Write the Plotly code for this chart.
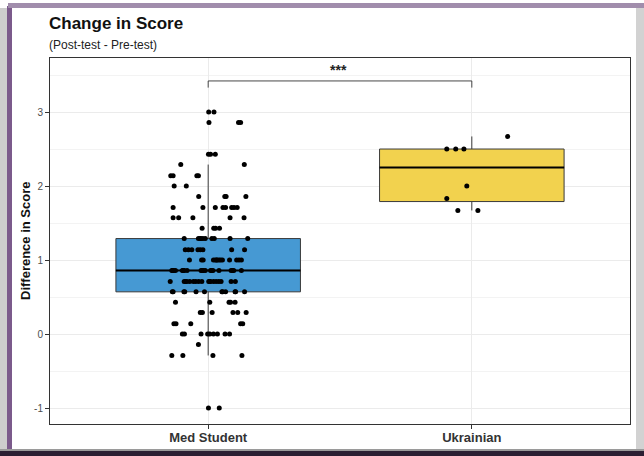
import numpy as np
import plotly.graph_objects as go

# ---- data -------------------------------------------------------------
groups = ["Med Student", "Ukrainian"]
group_pos = [1, 2]
y_ticks = [-1, 0, 1, 2, 3]
y_tick_labels = ["-1", "0", "1", "2", "3"]

# Med Student change scores (post - pre), grouped by score level
med_scores = (
    [3.00] * 2 + [2.86] * 3 + [2.43] * 3 + [2.29] * 2 + [2.14] * 4 + [2.00] * 2
    + [1.86] * 4 + [1.71] * 8 + [1.57] * 5 + [1.43] * 4 + [1.29] * 10
    + [1.14] * 8 + [1.00] * 14 + [0.86] * 20 + [0.71] * 18 + [0.57] * 12
    + [0.43] * 5 + [0.29] * 6 + [0.14] * 5 + [0.00] * 9 + [-0.14] * 1
    + [-0.29] * 4 + [-1.00] * 2
)
# horizontal jitter of each Med Student point (category units)
med_jitter = [
    0.002, 0.022,
    0.003, 0.115, 0.123,
    0.001, 0.009, 0.027,
    -0.104, 0.137,
    -0.142, -0.133, -0.043, -0.037,
    -0.129, -0.083,
    -0.036, 0.063, 0.068, 0.143,
    -0.133, -0.020, 0.027, 0.056, 0.066, 0.089, 0.098, 0.110,
    -0.133, -0.112, -0.058, 0.083, 0.136,
    -0.023, 0.021, 0.028, 0.043,
    -0.091, -0.037, -0.028, -0.020, -0.011, 0.014, 0.023, 0.083, 0.150, -0.030,
    -0.087, -0.075, -0.062, -0.039, -0.030, -0.020, 0.089, 0.138,
    -0.071, -0.025, -0.019, 0.020, 0.027, 0.034, 0.041, 0.047, 0.054, 0.081,
    0.108, 0.117, 0.126, 0.032,
    -0.138, -0.131, -0.124, -0.098, -0.091, -0.080, -0.027, -0.018, -0.011,
    0.009, 0.018, 0.041, 0.087, 0.097, 0.126, -0.134, -0.095, -0.023, 0.014, 0.092,
    -0.144, -0.091, -0.081, -0.070, -0.056, -0.047, -0.036, -0.024, 0.002,
    0.009, 0.020, 0.030, 0.040, 0.049, 0.087, 0.103, -0.086, 0.006,
    -0.136, -0.092, -0.046, -0.014, 0.052, 0.066, 0.104, 0.138, -0.133, -0.089,
    0.055, 0.102,
    -0.124, 0.006, 0.079, 0.102, 0.085,
    -0.030, -0.022, 0.015, 0.094, 0.112, 0.144,
    -0.130, -0.122, -0.066, 0.123, 0.131,
    -0.098, -0.090, -0.027, -0.002, 0.006, 0.020, 0.035, 0.064, 0.081,
    -0.037,
    -0.138, -0.096, 0.018, 0.128,
    0.001, 0.042,
]

# Ukrainian change scores and their jitter
ukr_scores = [2.50, 2.50, 2.50, 2.67, 2.00, 1.83, 1.67, 1.67]
ukr_jitter = [-0.095, -0.061, -0.030, 0.136, -0.019, -0.095, -0.053, 0.023]

box_colors = ["#4699D3", "#F2D24E"]
signif_label = "***"
bracket_y = 3.42
bracket_drop = 0.09

# ---- figure -----------------------------------------------------------
W, H = 644, 456
ML, MR, MT, MB = 50, 14, 58, 32
FONT = "Liberation Sans, Arial, sans-serif"


def px_x(p):
    return (p - ML) / (W - ML - MR)


def px_y(p):
    return (H - MB - p) / (H - MT - MB)


fig = go.Figure()
box_width = 0.7
series = [(med_scores, med_jitter), (ukr_scores, ukr_jitter)]

for pos, (vals, jit), col in zip(group_pos, series, box_colors):
    v = np.asarray(vals, dtype=float)
    q1, med, q3 = np.percentile(v, [25, 50, 75])
    iqr = q3 - q1
    lo = v[v >= q1 - 1.5 * iqr].min()
    hi = v[v <= q3 + 1.5 * iqr].max()
    fig.add_trace(go.Box(
        x=[pos], q1=[q1], median=[med], q3=[q3],
        lowerfence=[lo], upperfence=[hi],
        width=box_width, fillcolor=col, whiskerwidth=0,
        line=dict(color="#3a3a3a", width=1), boxpoints=False,
        showlegend=False, hoverinfo="skip",
    ))
    fig.add_trace(go.Scatter(
        x=[pos - box_width / 2, pos + box_width / 2], y=[med, med],
        mode="lines", line=dict(color="black", width=2),
        showlegend=False, hoverinfo="skip",
    ))

for pos, (vals, jit) in zip(group_pos, series):
    fig.add_trace(go.Scatter(
        x=[pos + j for j in jit], y=vals, mode="markers",
        marker=dict(color="black", size=5, line=dict(width=0)),
        showlegend=False,
    ))

# significance bracket
fig.add_shape(
    type="path",
    path=(f"M {group_pos[0]},{bracket_y - bracket_drop} L {group_pos[0]},{bracket_y} "
          f"L {group_pos[1]},{bracket_y} L {group_pos[1]},{bracket_y - bracket_drop}"),
    xref="x", yref="y", line=dict(color="#333333", width=0.9),
)
fig.add_annotation(
    x=sum(group_pos) / 2, y=bracket_y, xref="x", yref="y", text=signif_label,
    showarrow=False, yanchor="bottom", yshift=1, xshift=-2,
    font=dict(family=FONT, size=14, color="#222222", weight="bold"),
)

# titles
fig.add_annotation(
    x=0, y=px_y(24), xref="paper", yref="paper", text="<b>Change in Score</b>",
    showarrow=False, xanchor="left", yanchor="middle", xshift=-3,
    font=dict(family=FONT, size=17, color="#111111"),
)
fig.add_annotation(
    x=0, y=px_y(45), xref="paper", yref="paper", text="(Post-test - Pre-test)",
    showarrow=False, xanchor="left", yanchor="middle", xshift=-3,
    font=dict(family=FONT, size=12, color="#222222"),
)
fig.add_annotation(
    x=px_x(25), y=0.5, xref="paper", yref="paper", text="<b>Difference in Score</b>",
    showarrow=False, textangle=-90, xanchor="center", yanchor="middle",
    font=dict(family=FONT, size=13, color="#111111"),
)

# decorative frame around the figure
frame = [
    (0, 8, 7, 452, "#cdcdcd"),
    (7, 6, 12, 452, "#7b5a8b"),
    (8, 3, 644, 8, "#a18dac"),
    (636, 8, 644, 452, "#d2d2d2"),
    (0, 449, 644, 451, "#9a9a9a"),
    (0, 451, 644, 456, "#2b1f33"),
]
for x0, y0, x1, y1, c in frame:
    fig.add_shape(type="rect", xref="paper", yref="paper",
                  x0=px_x(x0), x1=px_x(x1), y0=px_y(y1), y1=px_y(y0),
                  fillcolor=c, line=dict(width=0), layer="below")

axis_common = dict(
    showline=True, mirror=True, linecolor="#333333", linewidth=1,
    ticks="outside", ticklen=4, tickcolor="#333333", tickwidth=1,
    showgrid=True, gridcolor="#EBEBEB", gridwidth=1, zeroline=False,
    automargin=False,
)
fig.update_xaxes(
    range=[0.4, 2.6], tickvals=group_pos, ticktext=groups,
    tickfont=dict(family=FONT, size=13, color="#333333", weight="bold"),
    ticklabelstandoff=-3,
    **axis_common,
)
fig.update_yaxes(
    range=[-1.216, 3.73], tickvals=y_ticks, ticktext=y_tick_labels,
    tickfont=dict(family=FONT, size=10, color="#4d4d4d"),
    minor=dict(tickvals=[-0.5, 0.5, 1.5, 2.5, 3.5], showgrid=True,
               gridcolor="#F3F3F3", gridwidth=0.6, ticks=""),
    **axis_common,
)

fig.update_layout(
    width=W, height=H,
    margin=dict(l=ML, r=MR, t=MT, b=MB),
    paper_bgcolor="white", plot_bgcolor="white",
    font=dict(family=FONT),
    showlegend=False,
)

fig.write_html("out.html")
